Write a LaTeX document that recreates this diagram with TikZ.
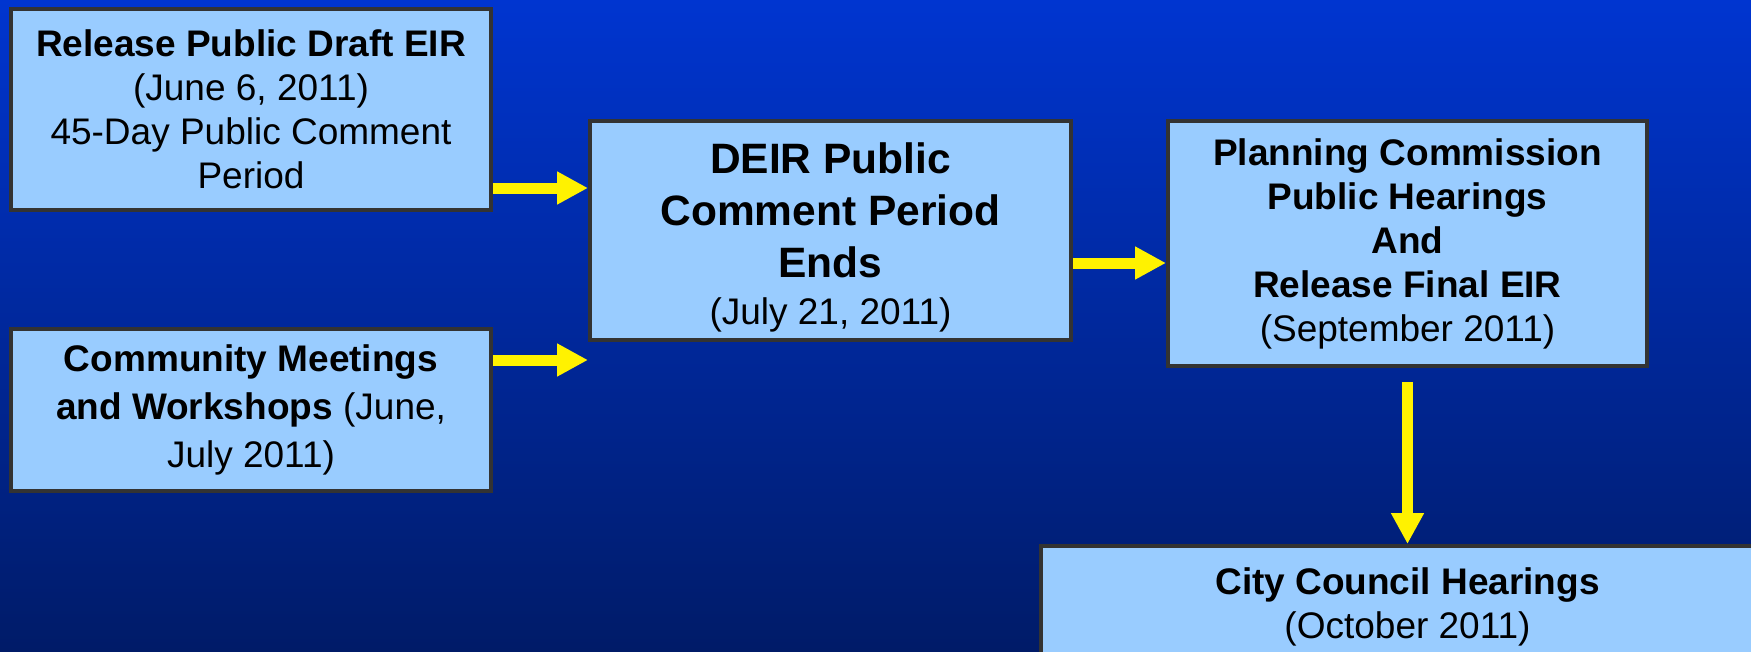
\documentclass[tikz,border=0pt]{standalone}
\usepackage{fontspec}
\setmainfont{Liberation Sans}
\usetikzlibrary{arrows.meta,positioning,calc,backgrounds}

\definecolor{boxfill}{HTML}{99CCFF}
\definecolor{boxline}{HTML}{333333}
\definecolor{bgtop}{HTML}{0035D0}
\definecolor{bgbot}{HTML}{001B68}

\begin{document}
\begin{tikzpicture}[
    x=1pt, y=-1pt,
    stage/.style={
      draw=boxline,
      line width=4pt,
      fill=boxfill,
      anchor=north west,
      align=center,
      inner sep=0pt,
      font=\fontsize{37}{44}\selectfont
    },
    flow/.style={
      yellow,
      line width=11pt,
      -{Triangle[length=31pt,width=31pt]}
    }
  ]

\useasboundingbox (0, 0) rectangle (1751, 651);

\node[
    stage,
    minimum width=480pt,
    minimum height=201pt
  ] (PD) at (9, 7) {\textbf{Release Public Draft EIR}\\(June 6, 2011)\\45-Day Public Comment\\Period};

\node[
    stage,
    minimum width=480pt,
    minimum height=162pt
  ] (CM) at (9, 327) {\textbf{Community Meetings}\\[4pt]\textbf{and Workshops} (June,\\[4pt]July 2011)};

\node[
    stage,
    minimum width=481pt,
    minimum height=219pt
  ] (DE) at (588, 119) {\fontsize{42.5}{52}\selectfont\rule{0pt}{44pt}\textbf{DEIR Public}\\[8pt]
    \fontsize{42.5}{52}\selectfont\textbf{Comment Period}\\[8pt]
    \fontsize{42.5}{52}\selectfont\textbf{Ends}\\[3pt](July 21, 2011)};

\node[
    stage,
    minimum width=479pt,
    minimum height=245pt
  ] (PC) at (1166, 119) {\textbf{Planning Commission}\\\textbf{Public Hearings}\\\textbf{And}\\\textbf{Release Final EIR}\\(September 2011)};

\node[
    stage,
    anchor=north,
    minimum width=734pt,
    minimum height=121pt
  ] (CC) at ($ (PC.south) + (0, 176) $) {\textbf{City Council Hearings}\\(October 2011)};

  \coordinate (A1) at ($ (PD.south east) + (0, -24) $);
  \coordinate (A2) at ($ (CM.north east) + (0, 33) $);
  \coordinate (A3) at ($ (DE.north east) + (0, 144) $);
  \coordinate (A4) at ($ (PC.south) + (0, 14) $);

  \draw[flow] (A1) -- (A1 -| DE.west);
  \draw[flow] (A2) -- (A2 -| DE.west);
  \draw[flow] (A3) -- (A3 -| PC.west);
  \draw[flow] (A4) -- (CC.north);

\begin{scope}[on background layer]
  \shade[top color=bgtop, bottom color=bgbot] (0, 0) rectangle (1751, 651);
\end{scope}

\end{tikzpicture}
\end{document}
